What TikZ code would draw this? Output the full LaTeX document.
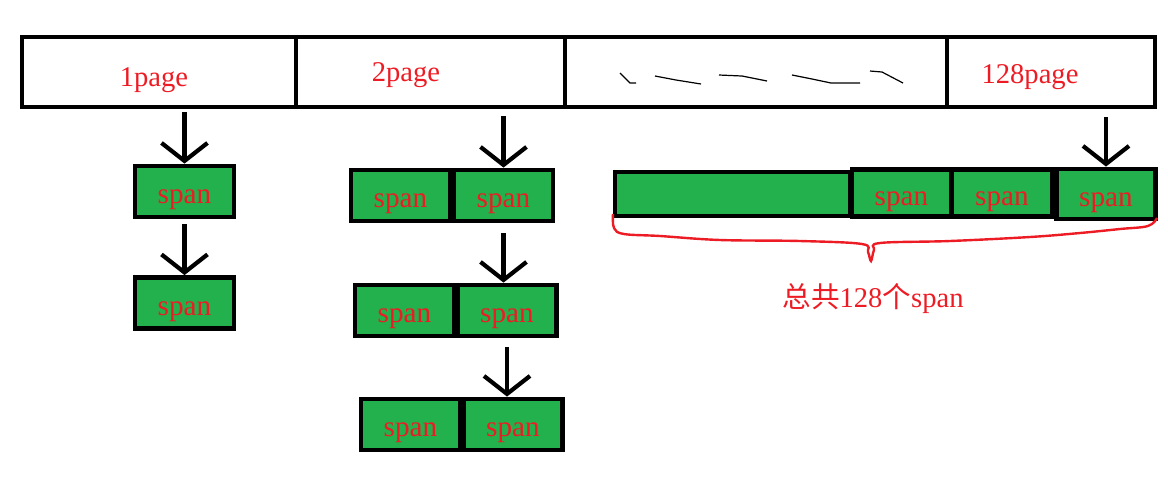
\documentclass[tikz,border=0pt]{standalone}
\usepackage{fontspec}
\setmainfont{Liberation Serif}
\newfontfamily\cjk{Noto Sans CJK SC}
\usepackage{xcolor}
\usetikzlibrary{arrows.meta}
\definecolor{pagered}{RGB}{237,28,36}
\definecolor{spangreen}{RGB}{34,177,76}

\begin{document}
\begin{tikzpicture}[x=0.5pt, y=-0.5pt, line join=miter,
  pagecell/.style={draw, line width=2.3pt, minimum height=35pt, inner sep=0pt},
  lbl/.style={text=pagered, anchor=base, inner sep=0pt, font=\fontsize{14.3}{17}\selectfont},
  spanbox/.style={draw, fill=spangreen, line width=2.4pt, minimum width=49.5pt,
    minimum height=25.5pt, inner sep=0pt, text=pagered, text height=12pt, text depth=0pt,
    font=\fontsize{14.6}{17}\selectfont},
  arr/.style={line width=2.1pt, -{Straight Barb[length=9pt,width=23pt]}},
  brace/.style={pagered, line width=1.2pt}]
  \useasboundingbox (0,0) rectangle (1168,500);

  % page row
  \node[pagecell, minimum width=137pt] (cell1) at (159,72) {};
  \node[pagecell, minimum width=134.5pt] (cell2) at (430.5,72) {};
  \node[pagecell, minimum width=191pt] (cell3) at (756,72) {};
  \node[pagecell, minimum width=104pt] (cell4) at (1051,72) {};
  \node[lbl] (page1) at (154,86) {1page};
  \node[lbl] (page2) at (406,81) {2page};
  \node[lbl] (page128) at (1030,83) {128page};
  \draw[line width=0.6pt] (620,73) -- (630,83) -- (636,83);
  \draw[line width=0.6pt] (655,76) -- (676,80) -- (701,84);
  \draw[line width=0.6pt] (719,75) -- (742,76) -- (767,81);
  \draw[line width=0.6pt] (792,75) -- (812,79) -- (831,83) -- (860,83);
  \draw[line width=0.6pt] (870,71) -- (882,72) -- (903,83);

  % 1page
  \node[spanbox] (c1a) at (184.5,191.5) {span};
  \node[spanbox] (c1b) at (184.5,303) {span};
  \draw[arr] ([yshift=-1.5pt]c1a.north |- cell1.south) -- (c1a.north);
  \draw[arr] ([yshift=-2.5pt]c1a.south) -- (c1b.north);

  % 2page
  \node[spanbox] (r1l) at (400.5,195.5) {span};
  \node[spanbox] (r1r) at (503.5,195.5) {span};
  \node[spanbox] (r2l) at (404.5,310.5) {span};
  \node[spanbox] (r2r) at (507,310.5) {span};
  \node[spanbox] (r3l) at (410.5,424.5) {span};
  \node[spanbox] (r3r) at (513,424.5) {span};
  \draw[arr] ([yshift=-3.5pt]r1r.north |- cell2.south) -- (r1r.north);
  \draw[arr] ([yshift=-5pt]r1r.south) -- (r1r.south |- r2r.north);
  \draw[arr] ([yshift=-4.5pt]r2r.south) -- (r2r.south |- r3r.north);

  % 128page
  \node[spanbox, minimum width=117.5pt, minimum height=22pt] (s1) at (732.5,194) {};
  \node[spanbox, minimum height=23.5pt] (s2) at (901.5,193) {span};
  \node[spanbox, minimum width=50pt, minimum height=23.5pt] (s3) at (1002,193) {span};
  \node[spanbox, minimum height=25pt] (s4) at (1106,194) {span};
  \draw[arr] ([yshift=-4pt]s4.north |- cell4.south) -- (s4.north);

  \draw[brace] plot[smooth, tension=0.6] coordinates {(613,214) (614,228) (624,234) (660,236)
    (720,240) (800,241) (862,244) (868,252) (871,261) (874,250) (880,243) (950,241)
    (1030,237) (1080,233) (1120,229) (1148,226) (1157,218)};
  \node[lbl] (total) at (873,307) {{\cjk 总共}128{\cjk 个}span};
\end{tikzpicture}
\end{document}
